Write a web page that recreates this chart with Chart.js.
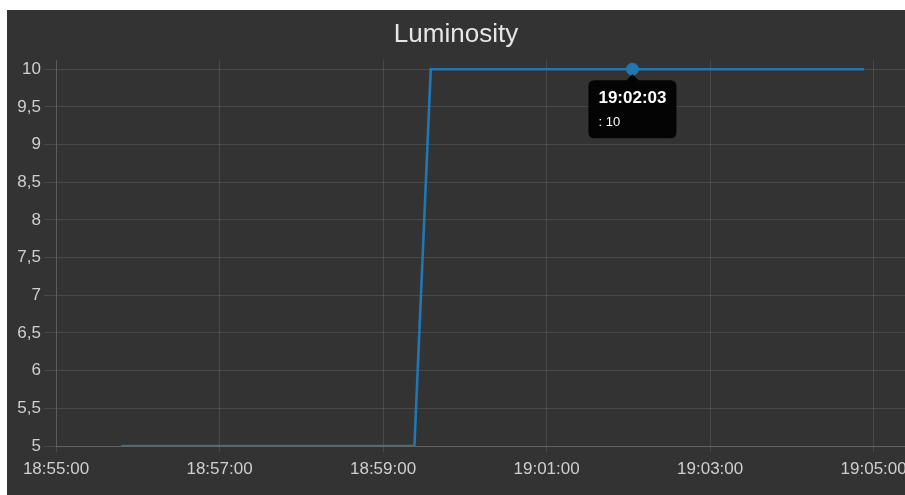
<!DOCTYPE html>
<html lang="en">
<head>
    <meta charset="UTF-8">
    <title>Luminosity</title>
    <script src="https://cdn.jsdelivr.net/npm/chart.js"></script>
    <style>
        html, body { margin: 0; padding: 0; background: #fff; overflow: hidden; }
        #panel { position: absolute; left: 7px; top: 10px; width: 902px; height: 485px; background: #333333; }
    </style>
</head>
<body>
    <div id="panel"><canvas id="lumChart" width="902" height="485"></canvas></div>

    <script>
        // data
        const times = ['18:55:48', '18:59:23', '18:59:35', '19:02:03', '19:04:53'];
        const values = [5, 5, 10, 10, 10];
        const yTicks = [5, 5.5, 6, 6.5, 7, 7.5, 8, 8.5, 9, 9.5, 10];
        const xStart = '18:55:00';
        const activeIndex = 3;

        function toSec(t) {
            const p = t.split(':').map(Number);
            return p[0] * 3600 + p[1] * 60 + p[2];
        }
        function fmt(s) {
            s = Math.round(s);
            const h = Math.floor(s / 3600), m = Math.floor(s % 3600 / 60), sec = s % 60;
            return [h, m, sec].map(v => String(v).padStart(2, '0')).join(':');
        }

        const base = toSec(xStart);
        const points = times.map((t, i) => ({ x: toSec(t) - base, y: values[i] }));
        const tickColor = '#cfcfcf';
        const gridColor = 'rgba(255,255,255,0.11)';
        const font = 'Liberation Sans, Arial, sans-serif';

        const ctx = document.getElementById('lumChart').getContext('2d');
        const chart = new Chart(ctx, {
            type: 'line',
            data: {
                datasets: [{
                    label: '',
                    data: points,
                    borderColor: '#1f77b4',
                    backgroundColor: '#1f77b4',
                    borderWidth: 2.6,
                    pointRadius: 0,
                    pointHoverRadius: 6,
                    pointHoverBackgroundColor: '#1f77b4',
                    pointHoverBorderColor: '#1f77b4',
                    tension: 0,
                    fill: false
                }]
            },
            options: {
                responsive: false,
                animation: false,
                events: [],
                layout: { padding: { right: 4 } },
                plugins: {
                    legend: { display: false },
                    title: {
                        display: true,
                        text: 'Luminosity',
                        color: '#e6e6e6',
                        font: { family: font, size: 26, weight: 'normal' },
                        padding: { top: 9, bottom: 10 }
                    },
                    tooltip: {
                        backgroundColor: 'rgba(0,0,0,0.92)',
                        titleColor: '#fff',
                        bodyColor: '#fff',
                        titleFont: { family: font, size: 17, weight: 'bold' },
                        bodyFont: { family: font, size: 13 },
                        titleMarginBottom: 6,
                        padding: { left: 10, right: 10, top: 8, bottom: 8 },
                        cornerRadius: 6,
                        caretSize: 6,
                        caretPadding: 5,
                        displayColors: false,
                        yAlign: 'top',
                        callbacks: {
                            title: items => fmt(items[0].parsed.x + base),
                            label: item => ': ' + item.parsed.y
                        }
                    }
                },
                scales: {
                    x: {
                        type: 'linear',
                        min: 0,
                        max: 623,
                        grid: { color: gridColor, tickLength: 6 },
                        border: { color: 'rgba(255,255,255,0.14)' },
                        afterFit: s => { s.height = 49; s.paddingLeft = 0; s.paddingRight = 0; },
                        ticks: {
                            stepSize: 120,
                            includeBounds: false,
                            maxRotation: 0,
                            autoSkip: false,
                            padding: 7,
                            color: tickColor,
                            font: { family: font, size: 17 },
                            callback: v => fmt(v + base)
                        }
                    },
                    y: {
                        min: 5,
                        max: 10.12,
                        grid: { color: gridColor, tickLength: 12 },
                        border: { color: gridColor },
                        afterFit: s => { s.width = 49; },
                        afterBuildTicks: s => { s.ticks = yTicks.map(v => ({ value: v })); },
                        ticks: {
                            padding: 3,
                            color: tickColor,
                            font: { family: font, size: 17 },
                            callback: v => String(v).replace('.', ',')
                        }
                    }
                }
            }
        });

        const active = [{ datasetIndex: 0, index: activeIndex }];
        chart.setActiveElements(active);
        const el = chart.getDatasetMeta(0).data[activeIndex];
        chart.tooltip.setActiveElements(active, { x: el.x, y: el.y });
        chart.update();
    </script>
</body>
</html>
